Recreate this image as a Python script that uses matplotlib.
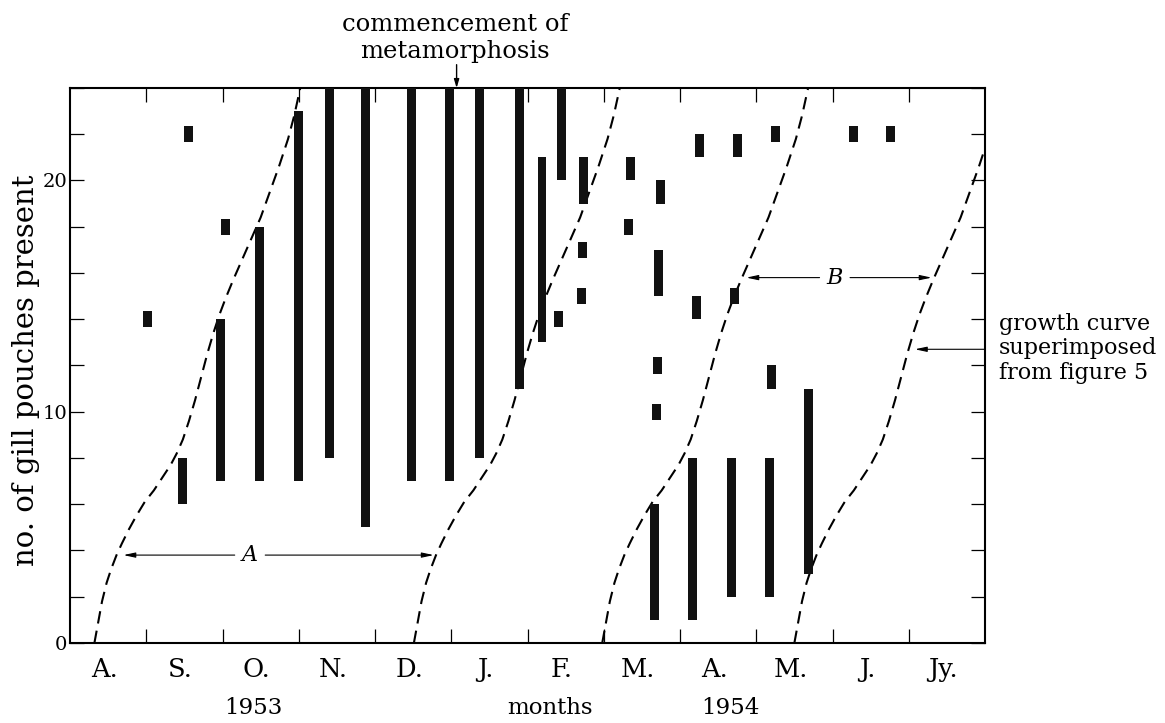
"""Gill pouch counts by month, 1953-54, with superimposed growth curves."""

import numpy as np
import matplotlib
matplotlib.use("Agg")
import matplotlib.pyplot as plt
from matplotlib.ticker import MultipleLocator
from matplotlib.transforms import blended_transform_factory

plt.rcParams["font.family"] = ["DejaVu Serif"]

# x in months from 1 Aug 1953; each sample: lowest and highest count seen
sample_month = [1.02, 1.56, 1.47, 2.04, 1.98, 2.48, 2.99, 3.40, 3.88, 4.48,
                4.98, 5.37, 5.89, 6.19, 6.44, 6.40, 6.74, 6.72, 6.71, 7.35,
                7.33, 7.74, 7.72, 7.70, 7.69, 7.66, 8.17, 8.25, 8.21, 8.67,
                8.76, 8.72, 9.17, 9.20, 9.25, 9.68, 10.27, 10.76]
pouch_low = [14, 22, 6, 18, 7, 7, 7, 8, 5, 7,
             7, 8, 11, 13, 20, 14, 19, 17, 15, 20,
             18, 19, 15, 12, 10, 1, 1, 21, 14, 2,
             21, 15, 2, 11, 22, 3, 22, 22]
pouch_high = [14, 22, 8, 18, 14, 18, 23, 24, 24, 24,
              24, 24, 24, 21, 24, 14, 21, 17, 15, 21,
              18, 20, 17, 12, 10, 6, 8, 22, 15, 8,
              22, 15, 8, 12, 22, 11, 22, 22]

# growth curve (figure 5): months after onset vs pouch count
growth_dt = [0, 0.05, 0.1, 0.16, 0.22, 0.29, 0.36, 0.45, 0.55, 0.66, 0.78,
             0.9, 1.0, 1.08, 1.16, 1.24, 1.32, 1.4, 1.48, 1.56, 1.64, 1.72,
             1.82, 1.94, 2.06, 2.18, 2.3, 2.42, 2.54, 2.62, 2.7]
growth_n = [0, 0.9, 1.8, 2.6, 3.2, 3.8, 4.3, 4.9, 5.5, 6.1, 6.6,
            7.2, 7.7, 8.2, 8.8, 9.6, 10.5, 11.5, 12.5, 13.4, 14.2, 14.9,
            15.7, 16.6, 17.5, 18.4, 19.5, 20.6, 21.8, 22.8, 24.0]
curve_onsets = [0.32, 4.51, 6.98, 9.5]

month_labels = ["A.", "S.", "O.", "N.", "D.", "J.", "F.", "M.", "A.", "M.", "J.", "Jy."]

# spans between curves: (label, y, left end, right end, label x)
spans = [("A", 3.8, 0.70, 4.77, 2.36), ("B", 15.8, 8.87, 11.30, 10.03)]

fig = plt.figure(figsize=(11.65, 7.23), dpi=100)
ax = fig.add_axes([0.0601, 0.1107, 0.7854, 0.7676])

# sample ranges as thick bars; single counts get a short block
lo = np.array(pouch_low, dtype=float)
hi = np.array(pouch_high, dtype=float)
single = lo == hi
lo[single] -= 0.35
hi[single] += 0.35
ax.bar(sample_month, hi - lo, bottom=lo, width=0.118, color="#111111",
       linewidth=0, zorder=3)

for onset in curve_onsets:
    ax.plot(onset + np.array(growth_dt), growth_n, color="black", lw=1.5,
            dashes=(6, 3.5), zorder=2)

ax.set_xlim(0, 12)
ax.set_ylim(0, 24)

# axes frame and ticks
for sp in ax.spines.values():
    sp.set_linewidth(1.5)
ax.set_xticks(np.arange(1, 12))
ax.set_xticklabels([])
ax.set_xticks(np.arange(12) + 0.45, minor=True)
ax.set_xticklabels(month_labels, minor=True, fontsize=18.5)
ax.tick_params(axis="x", which="major", direction="in", top=True,
               length=10, width=0.9)
ax.tick_params(axis="x", which="minor", length=0, pad=10)
ax.set_yticks([0, 10, 20])
ax.yaxis.set_minor_locator(MultipleLocator(2))
ax.tick_params(axis="y", which="both", direction="in", right=True,
               length=10, width=0.9, labelsize=14, pad=2)

fig.text(0.0223, 0.488, "no. of gill pouches present", rotation=90,
         ha="center", va="center", fontsize=21)

below = blended_transform_factory(ax.transData, ax.transAxes)
ax.text(2.41, -0.117, "1953", transform=below, ha="center", va="center", fontsize=16.5)
ax.text(6.30, -0.117, "months", transform=below, ha="center", va="center", fontsize=16.5)
ax.text(8.66, -0.117, "1954", transform=below, ha="center", va="center", fontsize=16.5)

# commencement of metamorphosis
ax.text(5.05, 1.054, "commencement of\nmetamorphosis", transform=below,
        ha="center", va="baseline", fontsize=17.5, linespacing=1.2)
ax.annotate("", xy=(5.07, 24), xycoords="data",
            xytext=(5.07, 1.042), textcoords=below,
            arrowprops=dict(arrowstyle="-|>,head_length=0.5,head_width=0.15",
                            lw=1.0, color="black", shrinkA=0, shrinkB=0))

# A and B spans
head = "-|>,head_length=0.7,head_width=0.15"
for label, y, x0, x1, xl in spans:
    ax.text(xl, y, label, ha="center", va="center", fontsize=16,
            fontstyle="italic")
    for xs, xe in [(xl - 0.2, x0), (xl + 0.2, x1)]:
        ax.annotate("", xy=(xe, y), xytext=(xs, y),
                    arrowprops=dict(arrowstyle=head, lw=0.8, color="black",
                                    shrinkA=0, shrinkB=0))

# growth curve note on the right
ax.annotate("", xy=(11.08, 12.7), xytext=(12.0, 12.7),
            arrowprops=dict(arrowstyle=head, lw=0.8, color="black",
                            shrinkA=0, shrinkB=0))
ax.text(12.18, 11.43, "growth curve\nsuperimposed\nfrom figure 5",
        ha="left", va="baseline", fontsize=16, linespacing=1.15, clip_on=False)

fig.savefig("out.png", dpi=100)
plt.close(fig)
